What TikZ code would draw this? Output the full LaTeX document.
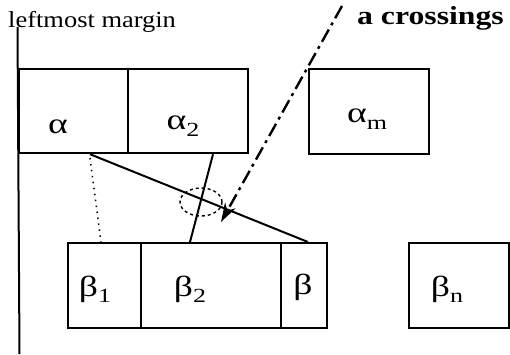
\documentclass[tikz,border=0pt]{standalone}
\usepackage{fontspec}
\setmainfont{Liberation Serif}
\usetikzlibrary{arrows.meta,shapes.geometric}
\newcommand{\wx}[1]{\scalebox{1.15}[1]{#1}}
\newcommand{\bx}[1]{\scalebox{1.22}[1]{#1}}
\newcommand{\gx}[1]{\scalebox{1.3}[1]{#1}}
\newcommand{\lowsub}[1]{\raisebox{-0.22em}{\fontsize{20}{20}\selectfont #1}}
\begin{document}
\begin{tikzpicture}[x=1pt,y=-1pt,
  box/.style={draw, line width=2.2pt, inner sep=0pt, anchor=north west, minimum height=84pt},
  lab/.style={inner sep=0pt, font=\fontsize{29}{29}\selectfont},
  conn/.style={line width=2pt},
  dotconn/.style={line width=1.5pt, dash pattern=on 1.5pt off 4.5pt},
  pointer/.style={line width=2.4pt, dash pattern=on 14pt off 5pt on 3pt off 5pt, -{Stealth[length=19pt,width=12pt,inset=6pt]}},
  txt/.style={inner sep=0pt, anchor=base west}]
\useasboundingbox (0,0) rectangle (510,354);
% margin line
\coordinate (mtop) at (17.5,27);
\coordinate (mbot) at (19.5,354);
\draw[line width=2pt] (mtop) -- (mbot);
% top boxes
\node[box, minimum width=109pt] (a1) at (18,68) {};
\node[box, minimum width=120pt] (a2) at (127,68) {};
\node[box, minimum width=120pt, minimum height=85pt] (am) at (308,68) {};
% bottom boxes
\node[box, minimum width=73pt, minimum height=85pt] (b1) at (67,242) {};
\node[box, minimum width=140pt, minimum height=85pt] (b2) at (140,242) {};
\node[box, minimum width=46pt, minimum height=85pt] (b3) at (280,242) {};
\node[box, minimum width=100pt, minimum height=85pt] (bn) at (408,242) {};
% labels
\node[lab] (la1) at (58,127) {\gx{α}};
\node[lab] (la2) at (183,126) {\gx{α\lowsub{2}}};
\node[lab] (lam) at (367,119) {\gx{α\lowsub{m}}};
\node[lab] (lb1) at (95,289) {\gx{β\lowsub{1}}};
\node[lab] (lb2) at (190,289) {\gx{β\lowsub{2}}};
\node[lab] (lb3) at (303,287) {\gx{β}};
\node[lab] (lbn) at (447,289) {\gx{β\lowsub{n}}};
% texts
\node[txt, font=\fontsize{23}{23}\selectfont] (lm) at (8,27) {\wx{leftmost margin}};
\node[txt, font=\bfseries\fontsize{26}{26}\selectfont] (ac) at (357,24) {\bx{a crossings}};
% connectors
\coordinate (s1) at ([xshift=72pt]a1.south west);
\coordinate (e1) at ([xshift=28pt]b3.north west);
\coordinate (s2) at ([xshift=86pt]a2.south west);
\coordinate (e2) at ([xshift=50pt]b2.north west);
\coordinate (d1) at (90,158);
\coordinate (d2) at ([xshift=34pt]b1.north west);
\draw[conn] (s1) -- (e1);
\draw[conn] (s2) -- (e2);
\draw[dotconn] (d1) -- (d2);
% crossing marker
\node[draw, dashed, line width=1.4pt, ellipse, minimum width=42pt, minimum height=28pt, inner sep=0pt] (cr) at (201,202) {};
% pointer
\coordinate (ptail) at (342,6);
\coordinate (ptip) at (221,222);
\draw[pointer] (ptail) -- (ptip);
\end{tikzpicture}
\end{document}
